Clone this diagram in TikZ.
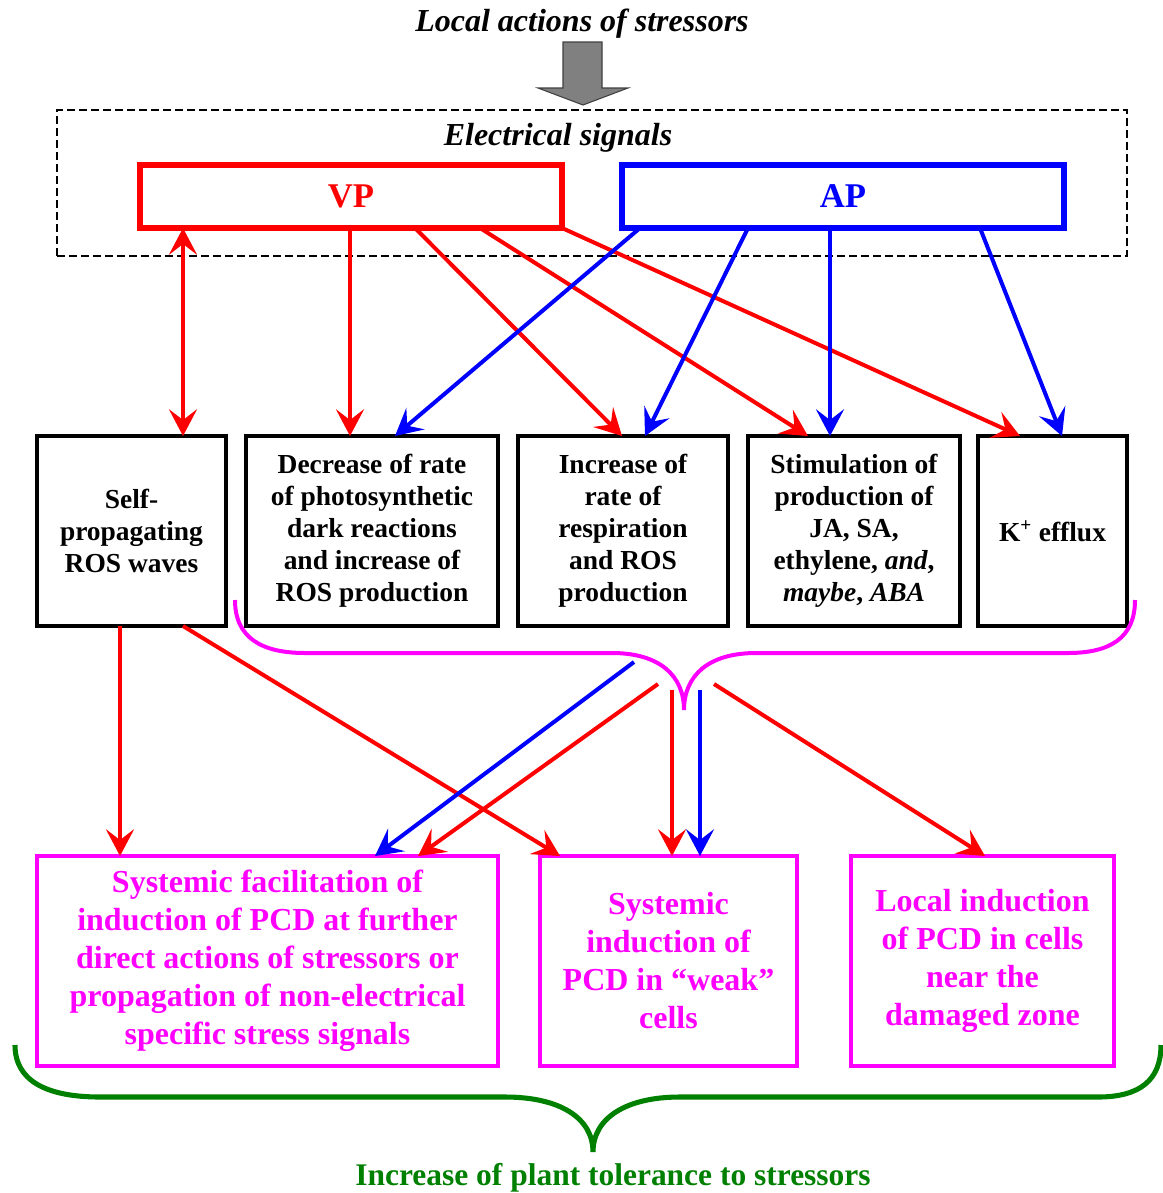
\documentclass[tikz,border=0pt]{standalone}
\usepackage{fontspec}
\setmainfont{Liberation Serif}
\usetikzlibrary{arrows.meta,positioning,calc}
\definecolor{sigred}{RGB}{255,0,0}
\definecolor{sigblue}{RGB}{0,0,255}
\definecolor{pcdpink}{RGB}{255,0,255}
\definecolor{tolgreen}{RGB}{0,128,0}
\tikzset{arr/.tip={Stealth[length=20pt, width=21pt, inset=8pt]}}

\begin{document}
\begin{tikzpicture}[x=0.75pt, y=-0.75pt, thick,
	effect/.style = {draw, line width=3pt, inner sep=0pt, outer sep=0pt, minimum height=142.5pt, align=center, font=\bfseries\fontsize{20.6}{24}\selectfont},
	outcome/.style = {draw=pcdpink, text=pcdpink, line width=3.3pt, inner sep=0pt, outer sep=0pt, minimum height=157.5pt, align=center, font=\bfseries\fontsize{24}{28.5}\selectfont},
	signal/.style = {draw=#1, text=#1, line width=4.5pt, inner sep=0pt, outer sep=0pt, minimum height=47.25pt, font=\bfseries\fontsize{26}{30}\selectfont},
	heading/.style = {font=\bfseries\itshape\fontsize{24}{28}\selectfont},
	link/.style = {draw=#1, line width=3pt, -arr}]
	\useasboundingbox (0,0) rectangle (1163,1193);
		\node[heading] (stress) at (582,24) {Local actions of stressors};
		\draw[fill=gray, draw=darkgray, line width=0.8pt] (563,42) -- (602,42) -- (602,88) -- (628,88) -- (583,105) -- (538,88) -- (563,88) -- cycle;
		\node[draw, dashed, dash pattern=on 6pt off 3pt, line width=1.1pt, minimum width=802.5pt, minimum height=109.5pt, inner sep=0pt] (elec) at (592,183) {};
		\node[heading] (elecl) at (558,138) {Electrical signals};
		\node[signal=sigred, minimum width=316.5pt] (vp) at (351,196.5) {VP};
		\node[signal=sigblue, minimum width=331.5pt, right=45pt of vp] (ap) {AP};
		\node[effect, minimum width=141.75pt] (ros) at (131.5,531) {Self-\\propagating\\ROS waves};
		\node[effect, minimum width=189pt, right=15pt of ros] (photo) {Decrease of rate\\of photosynthetic\\dark reactions\\and increase of\\ROS production};
		\node[effect, minimum width=157.5pt, right=15pt of photo] (resp) {Increase of\\rate of\\respiration\\and ROS\\production};
		\node[effect, minimum width=159pt, right=15pt of resp] (horm) {Stimulation of\\production of\\JA, SA,\\ethylene, \textit{and},\\\textit{maybe}, \textit{ABA}};
		\node[effect, minimum width=111.75pt, right=13.5pt of horm] (kefflux) {K\textsuperscript{+} efflux};
		\node[outcome, minimum width=345.75pt] (facil) at (267.5,961) {Systemic facilitation of\\induction of PCD at further\\direct actions of stressors or\\propagation of non-electrical\\specific stress signals};
		\node[outcome, minimum width=192.75pt, right=31.5pt of facil] (weak) {Systemic\\induction of\\PCD in “weak”\\cells};
		\node[outcome, minimum width=197.25pt, right=40.5pt of weak] (lpcd) {Local induction\\of PCD in cells\\near the\\damaged zone};
		\node[text=tolgreen, anchor=base, font=\bfseries\fontsize{23.6}{28}\selectfont] (toler) at (613,1185) {Increase of plant tolerance to stressors};
		\draw[link=sigred, arr-arr] ($(vp.south)+(-168,0)$) -- ($(ros.north)+(51.5,0)$);
		\draw[link=sigred] ($(vp.south)+(-1,0)$) -- ($(photo.north)+(-22,0)$);
		\draw[link=sigred] ($(vp.south)+(64,0)$) -- ($(resp.north)+(-1,0)$);
		\draw[link=sigred] ($(vp.south)+(129,0)$) -- ($(horm.north)+(-46,0)$);
		\draw[link=sigred] (vp.south east) -- ($(kefflux.north)+(-32.5,0)$);
		\draw[link=sigblue] ($(ap.south)+(-203,0)$) -- ($(photo.north)+(23,0)$);
		\draw[link=sigblue] ($(ap.south)+(-95,0)$) -- ($(resp.north)+(22,0)$);
		\draw[link=sigblue] ($(ap.south)+(-13,0)$) -- ($(horm.north)+(-24,0)$);
		\draw[link=sigblue] ($(ap.south)+(137,0)$) -- ($(kefflux.north)+(9.5,0)$);
		\draw[pcdpink, line width=3pt] (235,600) .. controls (235,638) and (262,653) .. (305,653) -- (612,653) .. controls (660,653) and (684,676) .. (684,710) .. controls (684,676) and (708,653) .. (756,653) -- (1068,653) .. controls (1110,653) and (1135,638) .. (1135,600);
		\coordinate (bl1) at (634,662);
		\coordinate (bl2) at (658,684);
		\coordinate (bl3) at (672,690);
		\coordinate (bl4) at (700,690);
		\coordinate (bl5) at (714,684);
		\draw[link=sigred] ($(ros.south)+(-11.5,0)$) -- ($(facil.north)+(-147.5,0)$);
		\draw[link=sigred] ($(ros.south)+(51.5,0)$) -- ($(weak.north)+(-108.5,0)$);
		\draw[link=sigblue] (bl1) -- ($(facil.north)+(107.5,0)$);
		\draw[link=sigred] (bl2) -- ($(facil.north)+(150.5,0)$);
		\draw[link=sigred] (bl3) -- ($(weak.north)+(3.5,0)$);
		\draw[link=sigblue] (bl4) -- ($(weak.north)+(31.5,0)$);
		\draw[link=sigred] (bl5) -- ($(lpcd.north)+(2.5,0)$);
		\draw[tolgreen, line width=3.8pt] (15,1045) .. controls (15,1080) and (45,1097) .. (100,1097) -- (505,1097) .. controls (560,1097) and (593,1118) .. (593,1152) .. controls (593,1118) and (626,1097) .. (680,1097) -- (1098,1097) .. controls (1140,1097) and (1161,1080) .. (1161,1045);
	\end{tikzpicture}
\end{document}
